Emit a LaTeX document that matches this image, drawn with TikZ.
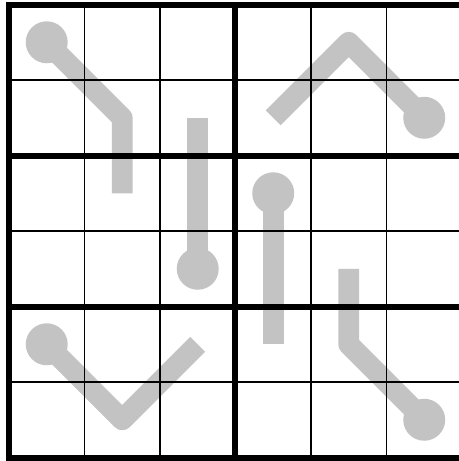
\documentclass[tikz,border=0pt]{standalone}
\usepackage{tikz}
\usepackage{xcolor}
\definecolor{LineGrey}{HTML}{C3C3C3}
\tikzset{
 thinrule/.style={draw=black, line width=0.75pt},
 thickrule/.style={draw=black, line width=3.4pt, line cap=rect},
 puzzleline/.style={draw=LineGrey, line width=11.9pt, line join=round, line cap=butt},
 bulb/.style={fill=LineGrey}
}

\begin{document}
\begin{tikzpicture}[x=1.51cm, y=-1.51cm]
\useasboundingbox (-0.119,-0.06) rectangle (5.96,6.046);
\clip (-0.119,-0.06) rectangle (5.96,6.046);
\draw[puzzleline] (0.5,0.5) -- (1.5,1.5) -- (1.5,2.5);
\fill[bulb] (0.5,0.5) circle (0.278);
\draw[puzzleline] (2.5,1.5) -- (2.5,3.5);
\fill[bulb] (2.5,3.5) circle (0.278);
\draw[puzzleline] (3.5,1.5) -- (4.5,0.5) -- (5.5,1.5);
\fill[bulb] (5.5,1.5) circle (0.278);
\draw[puzzleline] (3.5,2.5) -- (3.5,4.5);
\fill[bulb] (3.5,2.5) circle (0.278);
\draw[puzzleline] (4.5,3.5) -- (4.5,4.5) -- (5.5,5.5);
\fill[bulb] (5.5,5.5) circle (0.278);
\draw[puzzleline] (0.5,4.5) -- (1.5,5.5) -- (2.5,4.5);
\fill[bulb] (0.5,4.5) circle (0.278);
\foreach \k in {1,2,4,5} {
 \draw[thinrule] (\k,0) -- (\k,6);
}
\foreach \k in {1,3,5} {
 \draw[thinrule] (0,\k) -- (6,\k);
}
\foreach \k in {0,3,6} {
 \draw[thickrule] (\k,0) -- (\k,6);
}
\foreach \k in {0,2,4,6} {
 \draw[thickrule] (0,\k) -- (6,\k);
}
\end{tikzpicture}
\end{document}
